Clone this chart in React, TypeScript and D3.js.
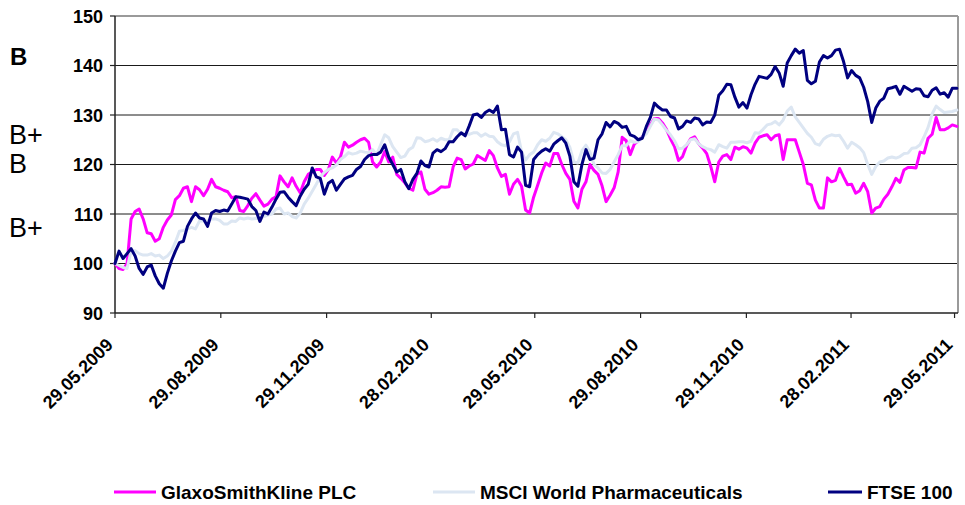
import React from 'react';
import * as d3 from 'd3';

// ---------- data ----------
const START_DATE = '29.05.2009';
const END_DATE = '01.06.2011';
const LAST_POINT_DATE = '31.05.2011';
const STEP_HOURS = 84; // observations every 3.5 days
const X_TICK_LABELS = [
  '29.05.2009', '29.08.2009', '29.11.2009', '28.02.2010', '29.05.2010',
  '29.08.2010', '29.11.2010', '28.02.2011', '29.05.2011',
];
const Y_TICKS = [90, 100, 110, 120, 130, 140, 150];
const SERIES_NAMES = ['GlaxoSmithKline PLC', 'MSCI World Pharmaceuticals', 'FTSE 100'];
const SERIES_COLORS = ['#FF00FF', '#DCE6F2', '#000080'];

const GSK = [
  100, 99, 98.8, 100, 109, 110.5, 111, 109, 106.2, 106,
  104.5, 105, 107.3, 108.8, 109.8, 112.9, 113.7, 115.2, 115.5, 112.5,
  115.5, 114.9, 113.7, 115, 117, 115.5, 115.2, 114.8, 114.5, 113.3,
  113.5, 110.7, 110.5, 111.7, 113.2, 114.1, 112.8, 111.6, 112, 113,
  113.5, 117.7, 116.5, 115.5, 117.3, 115.6, 114.3, 116.5, 118, 118.5,
  119, 119, 117.8, 119, 121.5, 120.3, 121.5, 124.5, 123.5, 123.9,
  124.5, 125, 125.3, 124.5, 120.5, 119.5, 120.5, 122.6, 120.5, 121.5,
  118, 117.2, 116.3, 115.2, 114.8, 118, 118.5, 115, 114, 114.3,
  114.8, 115.5, 115.4, 115.5, 119.5, 121.3, 121, 119.1, 119.7, 120.1,
  121.8, 121.3, 120.8, 122.8, 121.8, 119.3, 117.6, 118, 114, 116,
  117, 115.6, 110.8, 110.2, 113.4, 115.8, 118.3, 120.3, 119.7, 122.2,
  122.2, 120, 118.2, 117, 112.6, 111.2, 115, 116.5, 120, 118.8,
  118, 115.7, 112.5, 113.8, 115.3, 118.5, 125.5, 124.8, 122, 124.1,
  124.8, 125.6, 126.6, 128, 129.3, 129.3, 128.4, 127.1, 125.2, 123.6,
  120.8, 121.6, 123.8, 125.2, 125.6, 124.2, 123.3, 122.2, 119.6, 116.5,
  120.5, 121.7, 122, 121, 123.5, 123.1, 123.6, 123.3, 122.3, 124.3,
  125.5, 125.8, 126, 125, 125.8, 126, 121, 125, 125, 125,
  122.5, 120, 116.2, 115.9, 112.8, 111.2, 111.2, 117.3, 116.5, 116.8,
  119.2, 117.5, 115.9, 116, 114.2, 114.7, 116.2, 114.5, 110.2, 111.2,
  111.5, 113, 114, 115.5, 117.2, 116.4, 118.9, 119.4, 119.4, 119.3,
  122.5, 122.3, 125.3, 126.1, 129.5, 127, 127, 127.4, 128, 127.7,
];
const MSCI = [
  100, 99.6, 99.2, 99, 102.5, 102.6, 102, 101.7, 101.7, 102,
  101.5, 101.7, 101, 101.5, 102.5, 104.3, 106.5, 106.7, 107, 107.3,
  107, 108.6, 108.6, 108.6, 109, 109, 108.7, 108, 108, 108.6,
  108.5, 109.2, 109, 109.2, 109, 109.1, 109.2, 109.5, 109.8, 110,
  111, 111.2, 110, 110.2, 109.5, 109.2, 110.2, 112, 113.2, 114.6,
  116, 117.5, 118.4, 119, 119.3, 119.9, 121, 121.6, 122.4, 122.1,
  122.3, 122.7, 122.5, 122.4, 123, 122, 124, 126, 125.4, 123.6,
  122.5, 121.4, 121.7, 123, 123.5, 125.4, 125.3, 124.6, 124.8, 125.2,
  124.7, 125.3, 125, 125, 127, 127, 126.1, 126.1, 126.1, 126.4,
  126.4, 125.7, 126.2, 125.7, 125.6, 124.6, 124, 123.8, 124.6, 126.2,
  126.5, 122.6, 120.9, 122, 122.5, 124, 125, 124.7, 125.3, 126.5,
  126.2, 125.6, 125, 123.5, 120.5, 120.3, 122.8, 123.9, 122.5, 120,
  119.3, 118.3, 118.2, 119, 120.5, 122, 123.8, 123.8, 124.8, 124.5,
  124.6, 125.6, 126.2, 127.7, 129.2, 129, 128, 126.9, 126, 124.8,
  123.2, 123.3, 124, 125, 125.2, 124.2, 123.6, 123.2, 123, 122.5,
  124, 123.6, 123.3, 124.5, 124.5, 124.6, 124.6, 124.4, 124.7, 126.4,
  126.3, 127.1, 128, 128.2, 128.7, 128, 129, 130.8, 131.6, 129.6,
  128.5, 127.4, 126.3, 125.5, 124.2, 123.9, 125.1, 125.7, 126, 125.8,
  125.9, 124.7, 123.3, 124.5, 124, 123.4, 122.4, 120, 118, 119.6,
  120.5, 120.7, 121.3, 121.5, 121.3, 121.6, 122.2, 122.3, 123.3, 123.4,
  124, 125.6, 127.5, 130.2, 131.8, 131.1, 130.5, 130.6, 130.7, 131,
];
const FTSE = [
  100, 102.5, 101, 102, 103, 101.5, 99, 97.8, 99.3, 99.7,
  97.5, 95.9, 95, 98, 100.5, 102.5, 104.2, 104.5, 107.5, 109,
  110.2, 109.2, 109, 107.5, 110.2, 110.7, 110.5, 110.8, 110.6, 112,
  113.5, 113.4, 113.2, 113, 111.5, 110.7, 108.5, 110.4, 110, 111.4,
  113, 114.4, 114.5, 113.4, 112.5, 111.7, 113.6, 115, 116, 119.3,
  117.5, 117.2, 114, 116.2, 116.8, 114.8, 116, 117.1, 117.5, 117.8,
  119, 119.6, 121, 121.8, 122, 122, 122.5, 124, 121.5, 120,
  118.5, 119, 116.5, 115.1, 117, 118.2, 120.7, 119.8, 119.5, 122.3,
  123, 122.6, 123.2, 124.6, 124.6, 125.6, 126.4, 125.8, 127.8, 130,
  130.2, 129.5, 130.5, 131, 130.5, 131.8, 127, 127.1, 122, 121.5,
  123.5, 122.5, 115.8, 115.5, 121, 122, 122.7, 123.2, 122.7, 124.1,
  124.8, 125.4, 124.3, 121.7, 116.5, 115.6, 120, 123, 121, 121.3,
  125, 126.2, 128.5, 127.6, 128.7, 128.3, 127.5, 127.7, 126, 125.7,
  125, 125.3, 127.7, 129.5, 132.4, 131.6, 131, 131, 129.7, 129.4,
  127.2, 127.7, 128.8, 128.5, 129.4, 129.2, 128, 128.6, 128.5, 130,
  134, 134.9, 136.2, 136.1, 133.6, 131.6, 132.5, 131.4, 134.1, 136.2,
  137.8, 137.6, 137.4, 138.2, 139.8, 138.5, 135.8, 140.5, 142, 143.3,
  142.5, 143, 137, 136.3, 136.8, 140.7, 142, 141.5, 142, 143.1,
  143.3, 140.8, 137.5, 139, 138, 137.5, 135.6, 132.7, 128.5, 131.4,
  132.8, 133.4, 135.3, 135.5, 135.8, 134.2, 135.8, 135.3, 134.8, 135.3,
  135.2, 133.9, 133.7, 135, 135.5, 134.2, 134.5, 133.6, 135.4, 135.4,
];

const parse = d3.timeParse('%d.%m.%Y');

export default function App() {
  const W = 965;
  const H = 505;
  const left = 115;
  const right = 958;
  const top = 16;
  const bottom = 313;

  const start = parse(START_DATE) as Date;
  const end = parse(END_DATE) as Date;
  const lastDate = parse(LAST_POINT_DATE) as Date;

  const x = d3.scaleTime().domain([start, end]).range([left, right]);
  const y = d3.scaleLinear().domain([90, 150]).range([bottom, top]);

  const dates = GSK.map((_, i) =>
    i < GSK.length - 1 ? d3.timeHour.offset(start, STEP_HOURS * i) : lastDate
  );

  const line = d3
    .line<number>()
    .x((_, i) => x(dates[i]))
    .y((d) => y(d));

  const seriesList = [GSK, MSCI, FTSE];
  const font = "'Liberation Sans', Arial, Helvetica, sans-serif";

  const legendItems = [
    { lx: 114, tx: 161 },
    { lx: 433, tx: 480 },
    { lx: 828, tx: 867 },
  ];

  return (
    <svg
      width={W}
      height={H}
      style={{ position: 'absolute', left: 0, top: 0, background: '#fff' }}
      fontFamily={font}
    >
      {/* side labels */}
      <text x={10} y={65} fontSize={24} fontWeight="bold">B</text>
      <text x={9} y={144} fontSize={27}>B+</text>
      <text x={9} y={173} fontSize={27}>B</text>
      <text x={9} y={237} fontSize={27}>B+</text>

      {/* gridlines */}
      {Y_TICKS.filter((t) => t > 90 && t < 150).map((t) => (
        <line key={t} x1={left} x2={right} y1={y(t)} y2={y(t)} stroke="#1a1a1a" strokeWidth={1} />
      ))}
      {/* top & right border */}
      <line x1={left} x2={right} y1={y(150)} y2={y(150)} stroke="#9a9a9a" strokeWidth={2} />
      <line x1={right} x2={right} y1={top} y2={bottom} stroke="#9a9a9a" strokeWidth={2} />

      {/* y axis */}
      <line x1={left} x2={left} y1={top} y2={bottom} stroke="#222" strokeWidth={1.5} />
      {Y_TICKS.map((t) => (
        <g key={t}>
          <line x1={left - 5} x2={left} y1={y(t)} y2={y(t)} stroke="#222" strokeWidth={1.2} />
          <text x={103} y={y(t) + 6.5} textAnchor="end" fontSize={18} fontWeight="bold">
            {t}
          </text>
        </g>
      ))}

      {/* x axis */}
      <line x1={left} x2={right} y1={bottom} y2={bottom} stroke="#222" strokeWidth={1.5} />
      {X_TICK_LABELS.map((lab) => {
        const d = parse(lab) as Date;
        const px = x(d);
        return (
          <g key={lab}>
            <line x1={px} x2={px} y1={bottom} y2={bottom + 5} stroke="#222" strokeWidth={1.2} />
            <text
              transform={`translate(${px - 1},${346}) rotate(-45)`}
              textAnchor="end"
              fontSize={18}
              fontWeight="bold"
            >
              {lab}
            </text>
          </g>
        );
      })}

      {/* series */}
      {seriesList.map((s, k) => (
        <path
          key={SERIES_NAMES[k]}
          d={line(s) || ''}
          fill="none"
          stroke={SERIES_COLORS[k]}
          strokeWidth={3}
          strokeLinejoin="round"
          strokeLinecap="round"
        />
      ))}

      {/* legend */}
      {SERIES_NAMES.map((name, k) => (
        <g key={name}>
          <line
            x1={legendItems[k].lx}
            x2={legendItems[k].tx - 5}
            y1={492}
            y2={492}
            stroke={SERIES_COLORS[k]}
            strokeWidth={3}
          />
          <text x={legendItems[k].tx} y={498.5} fontSize={19} fontWeight="bold">
            {name}
          </text>
        </g>
      ))}
    </svg>
  );
}
